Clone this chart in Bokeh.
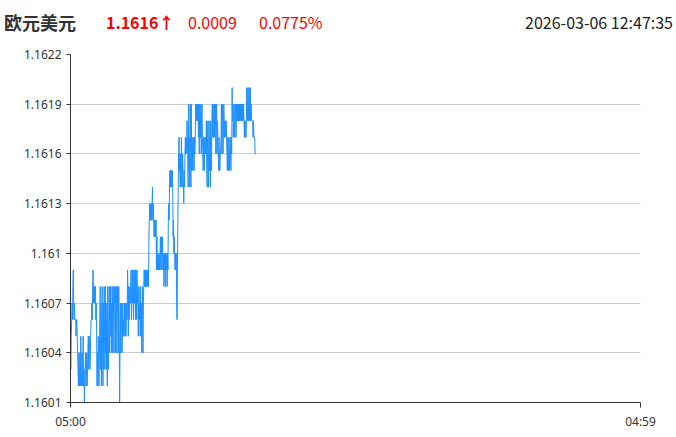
from bokeh.plotting import figure
from bokeh.models import FixedTicker, Range1d, ColumnDataSource, Div
from bokeh.layouts import column
from bokeh.embed import file_html
from bokeh.resources import INLINE

# ---- header ----
title_text = "欧元美元"
last_price_text = "1.1616↑"
change_text = "0.0009"
change_pct_text = "0.0775%"
timestamp_text = "2026-03-06 12:47:35"

# ---- axes ----
y_ticks = [1.1601, 1.1604, 1.1607, 1.1610, 1.1613, 1.1616, 1.1619, 1.1622]
y_tick_labels = ["1.1601", "1.1604", "1.1607", "1.161", "1.1613", "1.1616", "1.1619", "1.1622"]
x_ticks = [0, 1439]               # minutes since 05:00
x_tick_labels = ["05:00", "04:59"]

# ---- per-minute prices from 05:00 ----
price_a = [
    1.1603, 1.1603, 1.1605, 1.1606, 1.1607, 1.1606, 1.1608, 1.1609, 1.1607, 1.1606, 1.1607, 1.1606,
    1.1606, 1.1606, 1.1605, 1.1606, 1.1606, 1.1605, 1.1604, 1.1603, 1.1602, 1.1604, 1.1602, 1.1603,
    1.1604, 1.1602, 1.1605, 1.1603, 1.1602, 1.1604, 1.1602, 1.1603, 1.1605, 1.1602, 1.1603, 1.1601, 1.1602,
    1.1603, 1.1604, 1.1602, 1.1603, 1.1604, 1.1602, 1.1603, 1.1604, 1.1605, 1.1603, 1.1604, 1.1605, 1.1603,
    1.1604, 1.1605, 1.1606, 1.1606, 1.1607, 1.1606, 1.1608, 1.1609, 1.1607, 1.1608, 1.1607, 1.1608,
    1.1607, 1.1608, 1.1606, 1.1607, 1.1605, 1.1602, 1.1604, 1.1602, 1.1605, 1.1603, 1.1602, 1.1604, 1.1606,
    1.1608, 1.1603, 1.1607, 1.1602, 1.1606, 1.1608, 1.1604, 1.1602, 1.1607, 1.1603, 1.1608, 1.1605, 1.1603,
    1.1608, 1.1604, 1.1607, 1.1603, 1.1606, 1.1602, 1.1608, 1.1605, 1.1603, 1.1607, 1.1608, 1.1604, 1.1606,
    1.1608, 1.1605, 1.1607, 1.1604, 1.1608, 1.1607, 1.1604, 1.1608, 1.1606, 1.1604, 1.1608, 1.1607,
]
price_b = [
    1.1608, 1.1604, 1.1607, 1.1608, 1.1604, 1.1606, 1.1608, 1.1607, 1.1604, 1.1608, 1.1605, 1.1601, 1.1604,
    1.1607, 1.1604, 1.1606, 1.1607, 1.1604, 1.1605, 1.1607, 1.1605, 1.1606, 1.1605, 1.1607, 1.1606, 1.1605,
    1.1607, 1.1605, 1.1606, 1.1607, 1.1606, 1.1609, 1.1608, 1.1605, 1.1608, 1.1606, 1.1607, 1.1608,
    1.1607, 1.1608, 1.1609, 1.1606, 1.1608, 1.1609, 1.1607, 1.1609, 1.1606, 1.1608, 1.1609, 1.1607, 1.1609,
    1.1606, 1.1609, 1.1608, 1.1606, 1.1609, 1.1607, 1.1608, 1.1605, 1.1607, 1.1608, 1.1606, 1.1607, 1.1605,
    1.1608, 1.1605, 1.1607, 1.1604, 1.1606, 1.1608, 1.1604, 1.1607, 1.1608, 1.1609, 1.1608, 1.1609,
    1.1608, 1.1609, 1.1608, 1.1609, 1.1608, 1.1609, 1.1608, 1.1609, 1.1608, 1.1611, 1.1612, 1.1613, 1.1612,
    1.1613, 1.1612, 1.1613, 1.1612, 1.1613, 1.1614, 1.1612, 1.1613, 1.1612, 1.1611, 1.1612, 1.1611, 1.1612,
    1.1611, 1.1612, 1.1609, 1.1611, 1.1610, 1.1609, 1.1610, 1.1609, 1.1610, 1.1610, 1.1609, 1.1610,
]
price_c = [
    1.1611, 1.1609, 1.1610, 1.1611, 1.1609, 1.1611, 1.1610, 1.1609, 1.1610, 1.1608, 1.1610, 1.1609, 1.1610,
    1.1608, 1.1610, 1.1609, 1.1610, 1.1608, 1.1610, 1.1609, 1.1612, 1.1613, 1.1612, 1.1614, 1.1615,
    1.1614, 1.1615, 1.1614, 1.1615, 1.1614, 1.1615, 1.1614, 1.1611, 1.1612, 1.1610, 1.1611, 1.1610, 1.1609,
    1.1610, 1.1609, 1.1610, 1.1607, 1.1606, 1.1609, 1.1612, 1.1614, 1.1616, 1.1617, 1.1615, 1.1616, 1.1614,
    1.1616, 1.1614, 1.1617, 1.1615, 1.1614, 1.1616, 1.1615, 1.1614, 1.1613, 1.1615, 1.1614, 1.1616,
    1.1617, 1.1616, 1.1617, 1.1616, 1.1618, 1.1617, 1.1616, 1.1614, 1.1619, 1.1615, 1.1617, 1.1614, 1.1619,
    1.1618, 1.1614, 1.1619, 1.1615, 1.1617, 1.1616, 1.1615, 1.1617, 1.1616, 1.1615, 1.1617, 1.1616, 1.1617,
    1.1619, 1.1618, 1.1619, 1.1618, 1.1619, 1.1618, 1.1619, 1.1617, 1.1619, 1.1616, 1.1619, 1.1618,
    1.1617, 1.1619, 1.1616, 1.1618, 1.1619, 1.1617, 1.1616, 1.1615, 1.1617, 1.1616, 1.1615, 1.1617, 1.1616,
]
price_d = [
    1.1617, 1.1616, 1.1618, 1.1615, 1.1614, 1.1617, 1.1618, 1.1614, 1.1616, 1.1618, 1.1615, 1.1617,
    1.1614, 1.1618, 1.1616, 1.1615, 1.1618, 1.1619, 1.1617, 1.1619, 1.1618, 1.1617, 1.1619, 1.1617, 1.1618,
    1.1619, 1.1616, 1.1618, 1.1619, 1.1616, 1.1618, 1.1617, 1.1616, 1.1615, 1.1617, 1.1616, 1.1615, 1.1616,
    1.1616, 1.1617, 1.1619, 1.1616, 1.1618, 1.1619, 1.1616, 1.1617, 1.1619, 1.1618, 1.1617, 1.1618,
    1.1618, 1.1617, 1.1618, 1.1617, 1.1616, 1.1615, 1.1617, 1.1616, 1.1615, 1.1617, 1.1615, 1.1616, 1.1617,
    1.1616, 1.1615, 1.1617, 1.1616, 1.1620, 1.1618, 1.1619, 1.1617, 1.1618, 1.1619, 1.1617, 1.1618, 1.1619,
    1.1618, 1.1617, 1.1619, 1.1618, 1.1619, 1.1618, 1.1619, 1.1618, 1.1619, 1.1618, 1.1619, 1.1618,
    1.1619, 1.1618, 1.1619, 1.1618, 1.1619, 1.1618, 1.1619, 1.1618, 1.1619, 1.1618, 1.1617, 1.1618, 1.1617,
    1.1618, 1.1617, 1.1618, 1.1620, 1.1619, 1.1618, 1.1620, 1.1618, 1.1619, 1.1620, 1.1618, 1.1619,
    1.1620, 1.1618, 1.1619, 1.1618, 1.1618, 1.1618, 1.1618, 1.1617, 1.1618, 1.1617, 1.1617, 1.1617, 1.1616, 1.1616, 1.1616,
]

prices = price_a + price_b + price_c + price_d
minutes = list(range(len(prices)))

HEADER_H = 40
W, H = 668, 433 - HEADER_H
BL, BT = 70, 54 - HEADER_H
BR = W - 640
BB = 31

p = figure(width=W, height=H, output_backend="svg", toolbar_location=None,
           x_range=Range1d(0, 1439), y_range=Range1d(1.1601, 1.1622),
           min_border_left=BL, min_border_right=BR, min_border_top=BT, min_border_bottom=BB)
p.outline_line_color = None
p.background_fill_color = "white"
p.border_fill_color = "white"

src = ColumnDataSource(dict(x=minutes, y=prices))
p.line("x", "y", source=src, line_color="#1e90ff", line_width=1)

p.xgrid.grid_line_color = None
p.ygrid.grid_line_color = "#cccccc"
p.ygrid.grid_line_width = 1

p.yaxis.ticker = FixedTicker(ticks=y_ticks)
p.yaxis.major_label_overrides = {t: l for t, l in zip(y_ticks, y_tick_labels)}
p.yaxis.axis_line_color = "#333333"
p.yaxis.major_tick_line_color = "#333333"
p.yaxis.major_tick_out = 4
p.yaxis.major_tick_in = 0
p.yaxis.minor_tick_line_color = None
p.yaxis.major_label_standoff = 5
p.yaxis.major_label_text_font = "Noto Sans"
p.yaxis.major_label_text_font_size = "12px"
p.yaxis.major_label_text_color = "#333333"

p.xaxis.ticker = FixedTicker(ticks=x_ticks)
p.xaxis.major_label_overrides = {t: l for t, l in zip(x_ticks, x_tick_labels)}
p.xaxis.axis_line_color = "#333333"
p.xaxis.major_tick_line_color = "#333333"
p.xaxis.major_tick_out = 5
p.xaxis.major_tick_in = 0
p.xaxis.minor_tick_line_color = None
p.xaxis.major_label_standoff = 5
p.xaxis.major_label_text_font = "Noto Sans"
p.xaxis.major_label_text_font_size = "12px"
p.xaxis.major_label_text_color = "#333333"

# header as real HTML text
span = "position:absolute;top:12px;white-space:nowrap;"
header_html = (
    '<div style="position:relative;width:676px;height:40px;'
    "font-family:'Noto Sans CJK SC','Noto Sans',sans-serif;font-size:16px;line-height:20px;\">"
    f'<span style="{span}left:4px;font-size:18px;font-weight:bold;color:#333333;">{title_text}</span>'
    f'<span style="{span}left:106px;font-weight:bold;color:#ff0000;">{last_price_text}</span>'
    f'<span style="{span}left:188px;color:#ff0000;">{change_text}</span>'
    f'<span style="{span}left:259px;color:#ff0000;">{change_pct_text}</span>'
    f'<span style="{span}right:3px;color:#222222;">{timestamp_text}</span>'
    '</div>'
)
header = Div(text=header_html, width=676, height=HEADER_H, margin=(0, 0, 0, 0))

layout = column(header, p, spacing=0)
open("out.html", "w").write(file_html(layout, INLINE))
